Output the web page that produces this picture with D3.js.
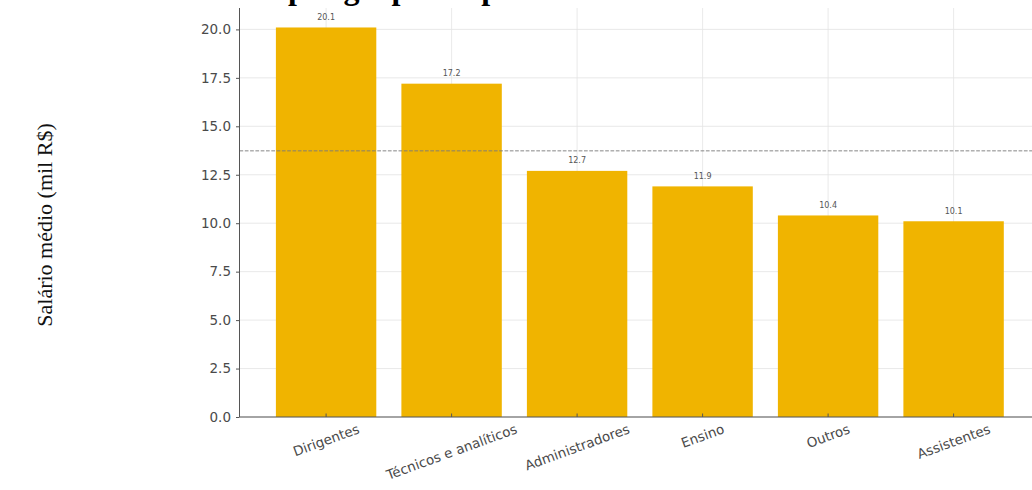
<!DOCTYPE html>
<html><head><meta charset="utf-8">
<script src="https://cdn.jsdelivr.net/npm/d3@7"></script>
<style>body{margin:0;background:#fff}svg{display:block}</style>
</head><body>
<svg id="c" width="1032" height="490"></svg>
<script>
const categories = ["Dirigentes", "Técnicos e analíticos", "Administradores", "Ensino", "Outros", "Assistentes"];
const salaries = [20.1, 17.2, 12.7, 11.9, 10.4, 10.1];
const valueLabels = ["20.1", "17.2", "12.7", "11.9", "10.4", "10.1"];
const yTicks = [0, 2.5, 5, 7.5, 10, 12.5, 15, 17.5, 20];
const titleText = "Salário médio por grupo ocupacional";
const yLabelText = "Salário médio (mil R$)";

(function () {
const svg = d3.select("#c");
const mLeft = 239.5, mTop = 8, mBottom = 417;
const step = 125.5;
const mRight = mLeft + step * 6.38;

const x = d3.scaleBand().domain(categories).range([mLeft, mRight]).paddingInner(0.2).paddingOuter(0.29);
const yMax = d3.max(salaries) * 1.05;
const y = d3.scaleLinear().domain([0, yMax]).range([mBottom, mTop]);
const mean = d3.mean(salaries);

// grid
const grid = svg.append("g");
grid.selectAll("line.h").data(yTicks).join("line").attr("class", "h")
  .attr("x1", mLeft).attr("x2", mRight).attr("y1", d => y(d)).attr("y2", d => y(d))
  .attr("stroke", "#e3e3e3").attr("stroke-width", 0.8);
grid.selectAll("line.v").data(categories).join("line").attr("class", "v")
  .attr("x1", d => x(d) + x.bandwidth() / 2).attr("x2", d => x(d) + x.bandwidth() / 2)
  .attr("y1", mTop).attr("y2", mBottom)
  .attr("stroke", "#e3e3e3").attr("stroke-width", 0.8);

// bars
svg.append("g").selectAll("rect").data(categories).join("rect")
  .attr("x", d => x(d)).attr("width", x.bandwidth())
  .attr("y", (d, i) => y(salaries[i])).attr("height", (d, i) => mBottom - y(salaries[i]))
  .attr("fill", "#f0b400");

// mean line
svg.append("line").attr("x1", mLeft).attr("x2", mRight).attr("y1", y(mean)).attr("y2", y(mean))
  .attr("stroke", "#7a7a7a").attr("stroke-width", 1).attr("stroke-dasharray", "3.7,1.6").attr("opacity", 0.9);

// value labels
svg.append("g").selectAll("text").data(categories).join("text")
  .attr("x", d => x(d) + x.bandwidth() / 2).attr("y", (d, i) => y(salaries[i]) - 7.5)
  .attr("text-anchor", "middle").attr("font-family", "DejaVu Sans").attr("font-size", 8)
  .attr("fill", "#555").text((d, i) => valueLabels[i]);

// y axis
const yAxis = d3.axisLeft(y).tickValues(yTicks).tickFormat(d3.format(".1f")).tickSizeOuter(0).tickSize(3.5).tickPadding(5);
const gy = svg.append("g").attr("transform", `translate(${mLeft},0)`).call(yAxis);
gy.select(".domain").remove();
gy.selectAll(".tick line").attr("stroke", "#555");
gy.selectAll(".tick text").attr("font-family", "DejaVu Sans").attr("font-size", 13.5).attr("fill", "#4a4a4a");

// x axis ticks (inward)
svg.append("g").selectAll("line").data(categories).join("line")
  .attr("x1", d => x(d) + x.bandwidth() / 2).attr("x2", d => x(d) + x.bandwidth() / 2)
  .attr("y1", mBottom).attr("y2", mBottom - 3.5).attr("stroke", "#555");

// spines
svg.append("line").attr("x1", mLeft).attr("x2", mLeft).attr("y1", mTop).attr("y2", mBottom).attr("stroke", "#555").attr("stroke-width", 1);
svg.append("line").attr("x1", mLeft).attr("x2", mRight).attr("y1", mBottom).attr("y2", mBottom).attr("stroke", "#555").attr("stroke-width", 1);

// x tick labels rotated 20deg, centered, top-aligned
const ang = 20 * Math.PI / 180;
const xl = svg.append("g");
categories.forEach(c => {
  const t = xl.append("text").attr("font-family", "DejaVu Sans").attr("font-size", 13.5)
    .attr("fill", "#4a4a4a").attr("text-anchor", "middle").attr("dominant-baseline", "central").text(c);
  const w = t.node().getComputedTextLength();
  const h = 15;
  const bh = w * Math.sin(ang) + h * Math.cos(ang);
  const cx = x(c) + x.bandwidth() / 2;
  const cy = mBottom + 4 + bh / 2;
  t.attr("transform", `translate(${cx},${cy}) rotate(-20)`);
});

// y label
svg.append("text").attr("transform", "translate(52,225) rotate(-90)")
  .attr("text-anchor", "middle").attr("font-family", "Liberation Serif").attr("font-size", 22)
  .attr("fill", "#111").text(yLabelText);

// title (mostly cropped above the canvas, as in the reference)
const tt = svg.append("text").attr("font-family", "Liberation Serif").attr("font-weight", "bold")
  .attr("font-size", 32).attr("fill", "#000").attr("y", -1);
const tmp = svg.append("text").attr("font-family", "Liberation Serif").attr("font-weight", "bold")
  .attr("font-size", 32).text("Salário médio ");
const pre = tmp.node().getComputedTextLength();
tmp.remove();
tt.attr("x", 280 - pre).text(titleText);
})();
</script>
</body></html>
